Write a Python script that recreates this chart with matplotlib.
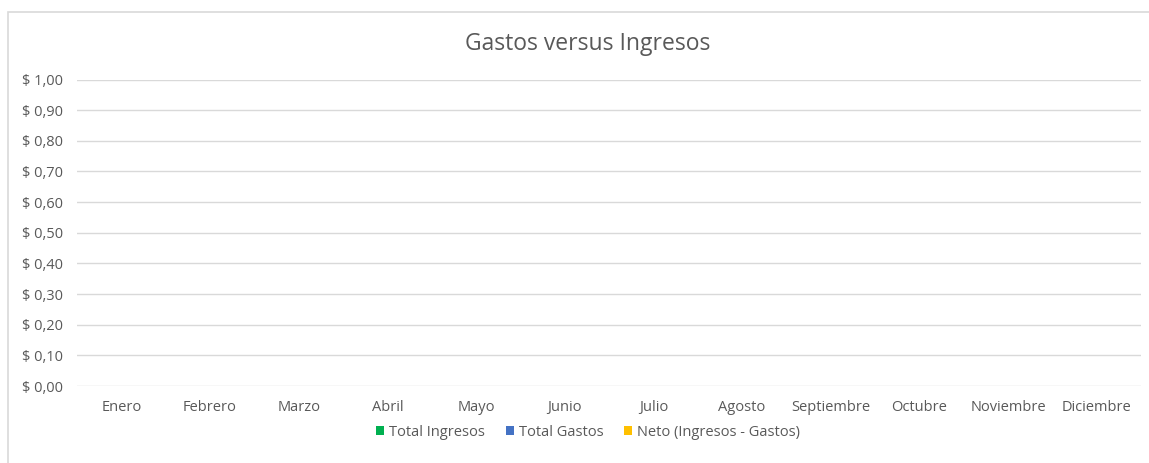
import numpy as np
import matplotlib.pyplot as plt
from matplotlib.patches import Rectangle
from matplotlib.ticker import FuncFormatter

plt.rcParams['font.family'] = ['Open Sans', 'DejaVu Sans']

meses = ['Enero', 'Febrero', 'Marzo', 'Abril', 'Mayo', 'Junio', 'Julio',
         'Agosto', 'Septiembre', 'Octubre', 'Noviembre', 'Diciembre']
# la hoja no tiene datos todavia: todas las series en cero
total_ingresos = [0] * 12
total_gastos = [0] * 12
neto = [0] * 12

series = [
    ('Total Ingresos', total_ingresos, '#00B050'),
    ('Total Gastos', total_gastos, '#4472C4'),
    ('Neto (Ingresos - Gastos)', neto, '#FFC000'),
]

fig = plt.figure(figsize=(11.49, 4.63), dpi=100)
ax = fig.add_axes([77 / 1149, 1 - 386 / 463, (1141 - 77) / 1149, (386 - 79.5) / 463])

x = np.arange(len(meses))
w = 0.25
for i, (nombre, vals, col) in enumerate(series):
    ax.bar(x + (i - 1) * w, vals, w, color=col, label=nombre, linewidth=0)

ax.set_xlim(-0.5, len(meses) - 0.5)
ax.set_ylim(0, 1.0)
ax.set_yticks(np.arange(0, 1.01, 0.1))
ax.yaxis.set_major_formatter(FuncFormatter(lambda v, p: '$ ' + f'{v:.2f}'.replace('.', ',')))
ax.set_xticks(x)
ax.set_xticklabels(meses)
ax.grid(axis='y', color='#D9D9D9', linewidth=1)
ax.set_axisbelow(True)
for s in ax.spines.values():
    s.set_visible(False)
ax.tick_params(axis='both', length=0, colors='#595959', labelsize=10.5)
ax.tick_params(axis='y', pad=10)
ax.tick_params(axis='x', pad=10)

fig.text(588 / 1149, 1 - 44 / 463, 'Gastos versus Ingresos', ha='center', va='center',
         fontsize=16.5, color='#595959')

leg = fig.legend(loc='center', bbox_to_anchor=(588 / 1149, 1 - 432 / 463), ncol=3,
                 frameon=False, fontsize=10.5, handlelength=0.55, handleheight=0.55,
                 handletextpad=0.35, columnspacing=1.4, borderaxespad=0)
for t in leg.get_texts():
    t.set_color('#595959')

# borde del area del grafico
fig.patches.append(Rectangle((8 / 1149, -0.05), 1.2, 1 - 12.5 / 463 + 0.05,
                             transform=fig.transFigure, fill=False,
                             edgecolor='#D9D9D9', linewidth=1.2))

fig.savefig('out.png', dpi=100)
